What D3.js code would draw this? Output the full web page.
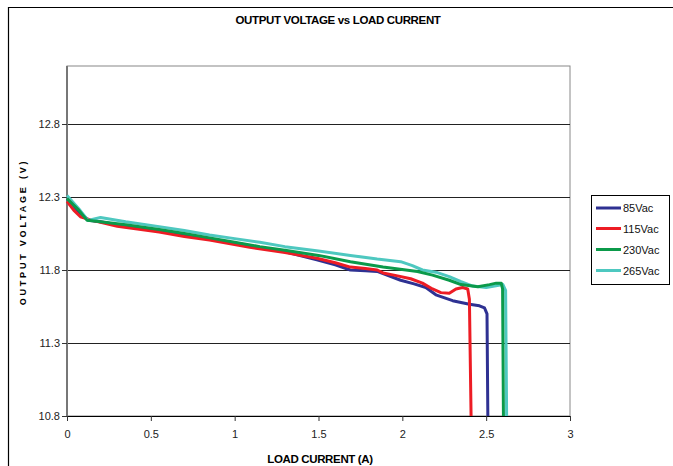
<!DOCTYPE html>
<html><head><meta charset="utf-8">
<script src="https://cdn.jsdelivr.net/npm/d3@7"></script>
<style>body{margin:0;background:#fff}svg{display:block}text{font-family:"Liberation Sans",Arial,sans-serif}</style>
</head><body><div id="c"></div>
<script>
const title = "OUTPUT VOLTAGE vs LOAD CURRENT";
const xTitle = "LOAD CURRENT (A)";
const yTitle = "OUTPUT VOLTAGE (V)";
const seriesNames = ["85Vac", "115Vac", "230Vac", "265Vac"];
const seriesColors = ["#2E3192", "#ED1C24", "#0B9A4A", "#4EC8C0"];
const xTicks = [0, 0.5, 1, 1.5, 2, 2.5, 3];
const yTicks = [10.8, 11.3, 11.8, 12.3, 12.8];

const current85 = [0,0.07,0.13,0.2,0.35,0.55,0.7,0.85,1.0,1.15,1.3,1.49,1.6,1.69,1.78,1.85,1.99,2.07,2.14,2.2,2.3,2.4,2.46,2.49,2.505,2.51];
const volt85    = [12.29,12.2,12.14,12.13,12.1,12.07,12.04,12.015,11.985,11.955,11.925,11.87,11.835,11.8,11.795,11.79,11.73,11.705,11.68,11.63,11.59,11.565,11.555,11.54,11.5,10.8];
const current115 = [0,0.04,0.08,0.15,0.3,0.55,0.7,0.85,1.09,1.3,1.49,1.6,1.69,1.78,1.85,1.885,1.95,2.05,2.12,2.18,2.23,2.28,2.32,2.36,2.39,2.4,2.41];
const volt115    = [12.27,12.21,12.165,12.14,12.1,12.06,12.03,12.005,11.955,11.92,11.88,11.85,11.82,11.81,11.8,11.78,11.765,11.74,11.71,11.67,11.645,11.64,11.67,11.68,11.67,11.6,10.8];
const current230 = [0,0.07,0.12,0.2,0.35,0.55,0.7,0.85,1.0,1.15,1.3,1.5,1.69,1.885,2.09,2.18,2.28,2.35,2.45,2.52,2.56,2.59,2.598,2.603];
const volt230    = [12.29,12.21,12.14,12.13,12.11,12.078,12.05,12.02,11.99,11.96,11.935,11.9,11.857,11.82,11.79,11.765,11.73,11.7,11.685,11.7,11.71,11.71,11.67,10.8];
const current265 = [0,0.07,0.125,0.2,0.35,0.55,0.7,0.85,1.0,1.15,1.3,1.5,1.69,1.85,1.99,2.06,2.12,2.2,2.28,2.35,2.42,2.5,2.55,2.6,2.616,2.622];
const volt265    = [12.31,12.22,12.14,12.16,12.13,12.097,12.07,12.04,12.015,11.99,11.96,11.93,11.9,11.875,11.857,11.83,11.8,11.785,11.755,11.72,11.69,11.68,11.69,11.7,11.66,10.8];

const currents = [current85, current115, current230, current265];
const volts = [volt85, volt115, volt230, volt265];
const drawOrder = [0, 1, 3, 2];

const W = 673, H = 466;
const svg = d3.select("#c").append("svg").attr("width", W).attr("height", H);

// outer frame
svg.append("line").attr("x1",8).attr("x2",W).attr("y1",7.5).attr("y2",7.5).attr("stroke","#000").attr("stroke-width",1.2);
svg.append("line").attr("x1",8.5).attr("x2",8.5).attr("y1",7).attr("y2",H).attr("stroke","#000").attr("stroke-width",1.2);

const x = d3.scaleLinear().domain([0,3]).range([67,570]);
const y = d3.scaleLinear().domain([10.8,12.8]).range([416,124]);

// plot border
svg.append("rect").attr("x",67).attr("y",66).attr("width",503).attr("height",350)
  .attr("fill","none").attr("stroke","#888").attr("stroke-width",1);

// gridlines
svg.append("g").selectAll("line").data(yTicks.filter(d=>d>10.8)).join("line")
  .attr("x1",67).attr("x2",570).attr("y1",d=>Math.round(y(d))+0.5).attr("y2",d=>Math.round(y(d))+0.5)
  .attr("stroke","#222").attr("stroke-width",1);

// y axis
const yAxis = svg.append("g").attr("transform","translate(67,0)")
  .call(d3.axisLeft(y).tickValues(yTicks).tickFormat(d3.format(".1f")).tickSize(5).tickSizeOuter(0));
yAxis.select(".domain").attr("stroke","#777").attr("stroke-width",2).attr("d","M0,66V416");
yAxis.selectAll(".tick line").attr("stroke","#333");
yAxis.selectAll("text").attr("font-size",11).attr("fill","#222").attr("x",-7);

// x axis
const xAxis = svg.append("g").attr("transform","translate(0,416)")
  .call(d3.axisBottom(x).tickValues(xTicks).tickFormat(d=>String(d)).tickSize(5).tickSizeOuter(0));
xAxis.select(".domain").attr("stroke","#000").attr("stroke-width",1.2);
xAxis.selectAll(".tick line").attr("stroke","#333");
xAxis.selectAll("text").attr("font-size",11).attr("fill","#222").attr("y",14);

// lines
const line = d3.line().x(d=>x(d[0])).y(d=>y(d[1])).curve(d3.curveLinear);
const gL = svg.append("g");
drawOrder.forEach(i=>{
  const pts = currents[i].map((c,j)=>[c, volts[i][j]]);
  gL.append("path").datum(pts).attr("d",line).attr("fill","none")
    .attr("stroke",seriesColors[i]).attr("stroke-width",3).attr("stroke-linejoin","round");
});

// titles
svg.append("text").attr("x",338).attr("y",24).attr("text-anchor","middle")
  .attr("font-size",11.5).attr("font-weight","bold").attr("letter-spacing","-0.35").text(title);
svg.append("text").attr("x",320).attr("y",463).attr("text-anchor","middle")
  .attr("font-size",11.5).attr("font-weight","bold").attr("letter-spacing","-0.35").text(xTitle);
svg.append("text").attr("transform","translate(26,232) rotate(-90)").attr("text-anchor","middle")
  .attr("font-size",9).attr("font-weight","bold").attr("letter-spacing","2.8").text(yTitle);

// legend
const lg = svg.append("g");
lg.append("rect").attr("x",591.5).attr("y",195.5).attr("width",78).attr("height",89)
  .attr("fill","#fff").attr("stroke","#000").attr("stroke-width",1);
const ly = [208, 228.5, 249.5, 270.5];
seriesNames.forEach((n,i)=>{
  lg.append("line").attr("x1",596).attr("x2",621).attr("y1",ly[i]).attr("y2",ly[i])
    .attr("stroke",seriesColors[i]).attr("stroke-width",3);
  lg.append("text").attr("x",623).attr("y",ly[i]+4).attr("font-size",11).attr("fill","#111").text(n);
});
</script></body></html>
